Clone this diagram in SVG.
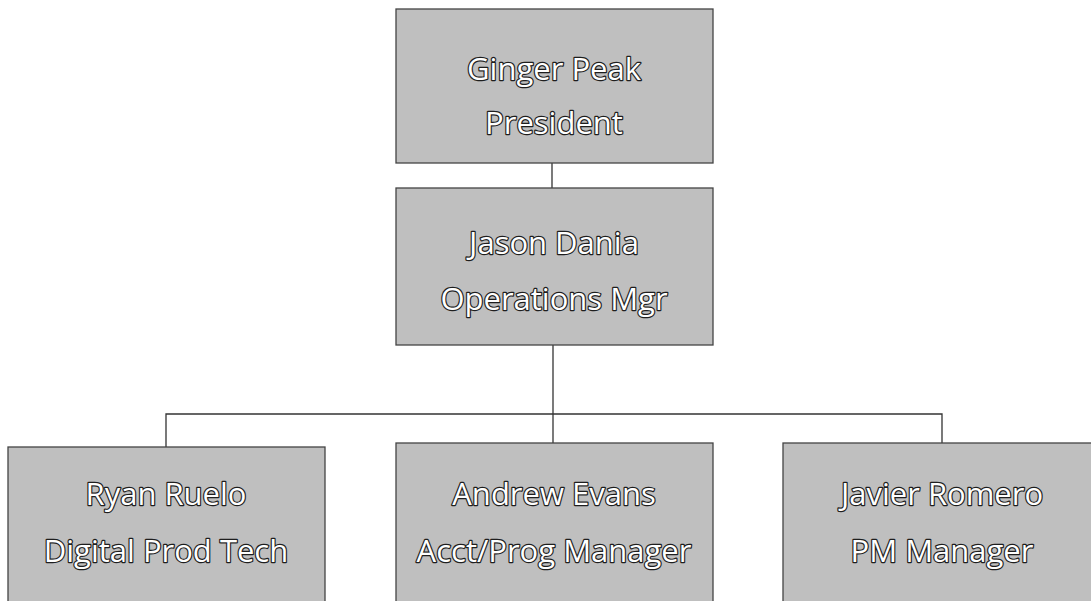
<svg xmlns="http://www.w3.org/2000/svg" width="1091" height="601" viewBox="0 0 1091 601">
<style>
.box{fill:#bfbfbf;stroke:#444;stroke-width:1.3}
.lbl{font-family:"Open Sans","Liberation Sans",sans-serif;font-size:31px;fill:#ffffff;stroke:#1e1e1e;stroke-width:2.4;stroke-linejoin:round;paint-order:stroke;text-anchor:middle;dominant-baseline:central}
.conn{fill:none;stroke:#333;stroke-width:1.3}
</style>
<rect width="1091" height="601" fill="#ffffff"/>
<g id="connectors">
<line class="conn" x1="552" y1="163" x2="552" y2="188"/>
<line class="conn" x1="553" y1="345" x2="553" y2="443"/>
<polyline class="conn" points="166,447 166,414 942,414 942,443"/>
</g>
<g id="ginger">
<rect class="box" x="396" y="9" width="317" height="154"/>
<text class="lbl" x="554" y="68">Ginger Peak</text>
<text class="lbl" x="554" y="122">President</text>
</g>
<g id="jason">
<rect class="box" x="396" y="188" width="317" height="157"/>
<text class="lbl" x="554" y="242">Jason Dania</text>
<text class="lbl" x="554" y="298">Operations Mgr</text>
</g>
<g id="ryan">
<rect class="box" x="8" y="447" width="317" height="160"/>
<text class="lbl" x="166" y="493">Ryan Ruelo</text>
<text class="lbl" x="166" y="550">Digital Prod Tech</text>
</g>
<g id="andrew">
<rect class="box" x="396" y="443" width="317" height="164"/>
<text class="lbl" x="554" y="493">Andrew Evans</text>
<text class="lbl" x="554" y="550">Acct/Prog Manager</text>
</g>
<g id="javier">
<rect class="box" x="783" y="443" width="320" height="164"/>
<text class="lbl" x="942" y="493">Javier Romero</text>
<text class="lbl" x="942" y="550">PM Manager</text>
</g>
</svg>
